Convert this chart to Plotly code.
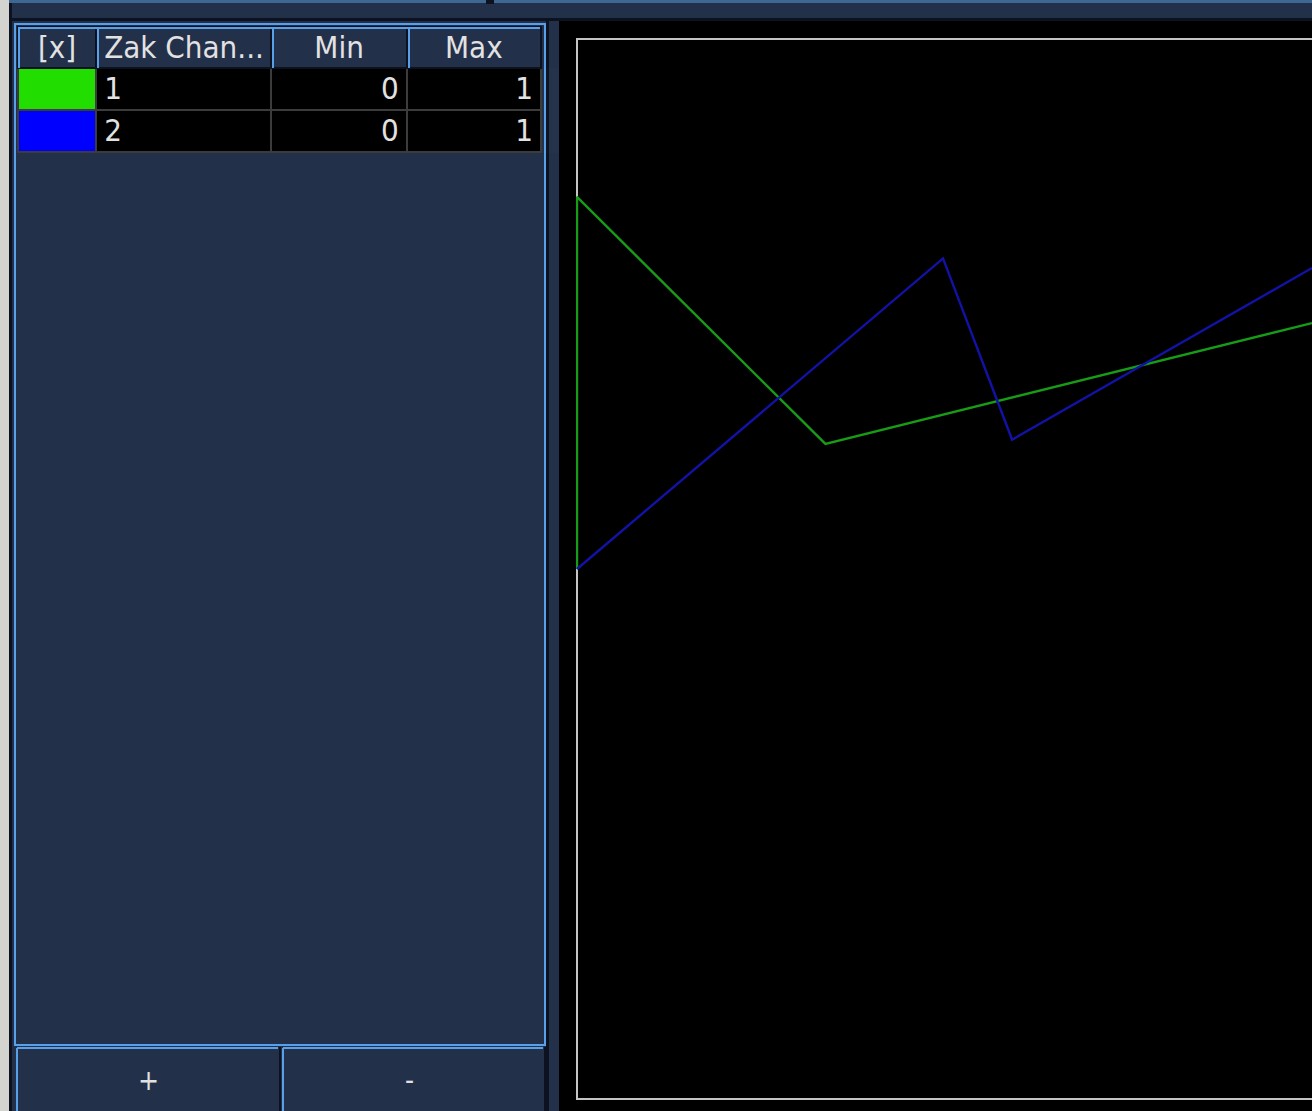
import plotly.graph_objects as go

W, H = 1312, 1111

# table contents
header_labels = ["[x]", "Zak\u00a0Chan...", "Min", "Max"]
zak_channels = ["1", "2"]
channel_min = [0, 0]
channel_max = [1, 1]
swatch_colors = ["#22dd00", "#0000ff"]

# line segments (x in fraction of visible width, y in 0..1)
ch1_x = [0, 0, 0.338, 1.0]
ch1_y = [0.5, 0.851, 0.618, 0.732]
ch2_x = [0, 0.498, 0.592, 1.0]
ch2_y = [0.5, 0.793, 0.622, 0.784]

NAVY = "#22304a"
BLUE = "#58a0ea"
DARK = "#0c1220"
FONT = "DejaVu Sans Condensed, DejaVu Sans, sans-serif"


def px(x):
    return x / W


def py(y):
    return 1 - y / H


def rect(x0, y0, x1, y1, fill, line=None, lw=0, layer="below"):
    return dict(type="rect", xref="paper", yref="paper",
                x0=px(x0), x1=px(x1), y0=py(y1), y1=py(y0),
                fillcolor=fill, layer=layer,
                line=dict(color=line or fill, width=lw))


def hline(x0, x1, y, color, w=2, layer="below"):
    return dict(type="line", xref="paper", yref="paper",
                x0=px(x0), x1=px(x1), y0=py(y), y1=py(y),
                line=dict(color=color, width=w), layer=layer)


def vline(x, y0, y1, color, w=2, layer="below"):
    return dict(type="line", xref="paper", yref="paper",
                x0=px(x), x1=px(x), y0=py(y0), y1=py(y1),
                line=dict(color=color, width=w), layer=layer)


fig = go.Figure()

fig.add_trace(go.Table(
    domain=dict(x=[px(18), px(541)], y=[py(153), py(27)]),
    columnwidth=[78, 175, 135, 134],
    header=dict(values=header_labels,
                align=["center", "left", "center", "center"],
                fill_color=NAVY,
                line=dict(color=DARK, width=2),
                font=dict(family=FONT, size=31, color="#e2e2e2"),
                height=41),
    cells=dict(values=[["", ""], zak_channels, channel_min, channel_max],
               align=["left", "left", "right", "right"],
               fill_color=[swatch_colors, ["black"] * 2, ["black"] * 2, ["black"] * 2],
               line=dict(color="#3c3c3c", width=2),
               font=dict(family=FONT, size=31, color="#e2e2e2"),
               height=42),
))

fig.add_trace(go.Scatter(x=ch1_x, y=ch1_y, mode="lines", name="1",
                         line=dict(color="#179c17", width=2.4)))
fig.add_trace(go.Scatter(x=ch2_x, y=ch2_y, mode="lines", name="2",
                         line=dict(color="#1212a6", width=2.4)))

shapes = [
    # top strip
    rect(0, 0, W, 3, "#3f6794"),
    rect(0, 3, W, 18, NAVY),
    rect(0, 18, W, 21, DARK),
    rect(486, 0, 494, 4, DARK),
    # left grey edge
    rect(0, 0, 9, H, "#d3d3cf"),
    rect(9, 3, 12, H, DARK),
    # table frame
    rect(15, 24, 545, 1045, NAVY, BLUE, 2),
    # separator
    rect(546, 21, 549, H, DARK),
    rect(549, 21, 559, H, NAVY),
    # black canvas
    rect(559, 21, W, H, "black"),
    # buttons
    rect(16, 1047, 279, H + 4, NAVY),
    rect(281, 1047, 544, H + 4, NAVY),
    hline(17, 278, 1048, BLUE), vline(17, 1048, H, BLUE),
    hline(283, 543, 1048, BLUE), vline(283, 1048, H, BLUE),
    vline(280, 1047, H, DARK, 2),
    vline(545, 1047, H, DARK, 2),
    # plot box
    vline(577, 38, 1100, "#c4c4c4", 2),
    hline(576, W, 39, "#c4c4c4", 2),
    hline(576, W, 1099, "#c4c4c4", 2),
    # header highlights
    hline(18, 540, 28, BLUE, 2, "above"),
    vline(19, 27, 68, BLUE, 2, "above"),
    vline(98, 27, 68, BLUE, 2, "above"),
    vline(273, 27, 68, BLUE, 2, "above"),
    vline(409, 27, 68, BLUE, 2, "above"),
]

fig.update_layout(
    width=W, height=H,
    margin=dict(l=0, r=0, t=0, b=0),
    paper_bgcolor=NAVY,
    plot_bgcolor="rgba(0,0,0,0)",
    showlegend=False,
    shapes=shapes,
    annotations=[
        dict(x=px(148), y=py(1080), xref="paper", yref="paper", text="+",
             xanchor="center", yanchor="middle", showarrow=False,
             font=dict(family=FONT, size=28, color="#e2e2e2")),
        dict(x=px(409), y=py(1080), xref="paper", yref="paper", text="-",
             xanchor="center", yanchor="middle", showarrow=False,
             font=dict(family=FONT, size=28, color="#e2e2e2")),
    ],
    xaxis=dict(domain=[px(576), 1], range=[-1 / 735, 1], visible=False, fixedrange=True),
    yaxis=dict(domain=[py(1099), py(39)], range=[0, 1], visible=False, fixedrange=True),
)

fig.write_html("out.html", config={"displayModeBar": False},
               post_script="document.body.style.margin='0';")
